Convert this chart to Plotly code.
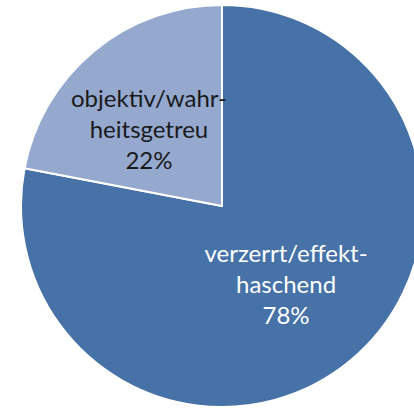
import math
import plotly.graph_objects as go

labels = ["verzerrt/effekt-<br>haschend", "objektiv/wahr-<br>heitsgetreu"]
values = [78, 22]
colors = ["#4672A8", "#95A9CF"]
text_colors = ["#FFFFFF", "#1A1A1A"]

W, H = 430, 412
cx, cy, r = 222, 206, 201

total = sum(values)
pcts = [v / total for v in values]

fig = go.Figure(go.Pie(
    labels=labels,
    values=values,
    sort=False,
    direction="clockwise",
    rotation=0,
    marker=dict(colors=colors, line=dict(color="#FFFFFF", width=2)),
    texttemplate=["%{label}<br>%{percent:.0%}", ""],
    textposition=["inside", "none"],
    insidetextorientation="horizontal",
    textfont=dict(family="Lato", size=24, color=text_colors),
    hoverinfo="label+percent",
    showlegend=False,
    domain=dict(x=[(cx - r) / W, (cx + r) / W], y=[(H - cy - r) / H, (H - cy + r) / H]),
))

# label for the small slice, placed along its mid-angle
mid = (pcts[0] + pcts[1] / 2) * 2 * math.pi
d = 0.53 * r
ax = cx + d * math.sin(mid)
ay = cy - d * math.cos(mid)
fig.add_annotation(
    x=ax / W, y=(H - ay) / H, xref="paper", yref="paper",
    text=f"{labels[1]}<br>{round(pcts[1] * 100)}%",
    showarrow=False, xanchor="center", yanchor="middle",
    xshift=-5, yshift=-5,
    font=dict(family="Lato", size=24, color=text_colors[1]),
)

fig.update_layout(
    width=W, height=H,
    margin=dict(l=0, r=0, t=0, b=0),
    paper_bgcolor="#FFFFFF",
    plot_bgcolor="#FFFFFF",
)

fig.write_html("out.html", config={"displayModeBar": False},
               post_script="document.body.style.overflow='hidden';document.body.style.margin='0px';")
